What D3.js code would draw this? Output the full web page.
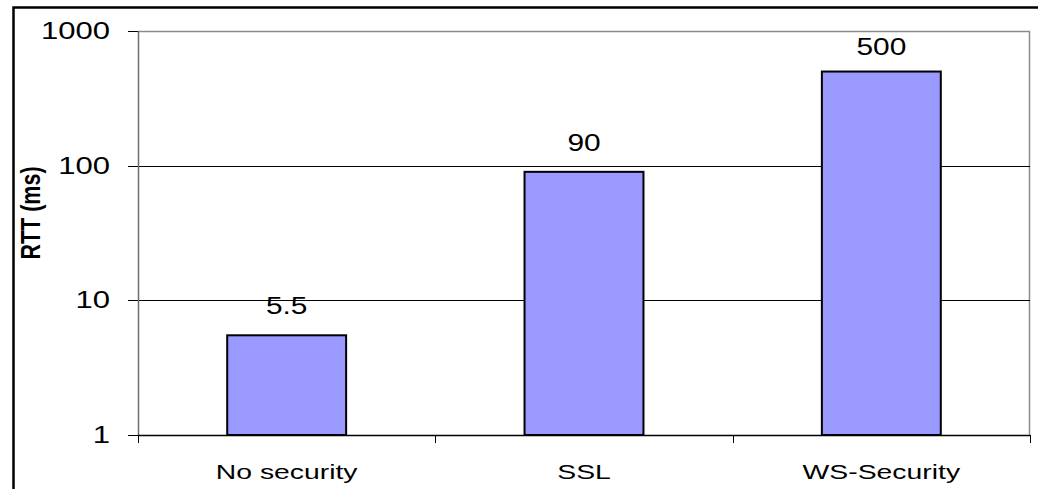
<!DOCTYPE html>
<html>
<head>
<meta charset="utf-8">
<script src="https://cdn.jsdelivr.net/npm/d3@7"></script>
<style>
  html, body { margin: 0; padding: 0; background: #fff; }
  svg { display: block; }
  text { font-family: "Liberation Sans", Arial, sans-serif; fill: #000; }
</style>
</head>
<body>
<svg id="chart" width="1038" height="489"></svg>
<script>
// Round-trip time per security mode (log scale)
const categories = ["No security", "SSL", "WS-Security"];
const rttValues = [5.5, 90, 500];
const valueLabels = ["5.5", "90", "500"];
const yTicks = [1, 10, 100, 1000];
const yTickLabels = ["1", "10", "100", "1000"];
const yTitle = "RTT (ms)";

const svg = d3.select("#chart");
const W = 1038, H = 489;
const plot = { left: 138, right: 1030, top: 31, bottom: 435 };

// Horizontally widened text, anchored at (x, y)
function wideText(g, x, y, str, size, sx, anchor, weight) {
  return g.append("text")
    .attr("transform", `translate(${x},${y}) scale(${sx},1)`)
    .attr("text-anchor", anchor)
    .style("font-size", size + "px")
    .style("font-weight", weight || "normal")
    .text(str);
}

// Outer frame (left and top edges)
svg.append("path")
  .attr("d", `M13.5,${H} L13.5,7.5 L${W},7.5`)
  .attr("fill", "none").attr("stroke", "#000").attr("stroke-width", 2.5);

const x = d3.scaleBand().domain(categories).range([plot.left, plot.right]).padding(0);
const y = d3.scaleLog().domain([1, 1000]).range([plot.bottom, plot.top]);

// Plot area border (top & right)
svg.append("path")
  .attr("d", `M${plot.left},${plot.top + 0.5} L${plot.right - 0.5},${plot.top + 0.5} L${plot.right - 0.5},${plot.bottom}`)
  .attr("fill", "none").attr("stroke", "#8c8c8c").attr("stroke-width", 1.5);

// Horizontal gridlines
svg.append("g").selectAll("line")
  .data(yTicks.filter(t => t > 1 && t < 1000))
  .join("line")
  .attr("x1", plot.left).attr("x2", plot.right)
  .attr("y1", d => Math.round(y(d)) + 0.5).attr("y2", d => Math.round(y(d)) + 0.5)
  .attr("stroke", "#000").attr("stroke-width", 1);

// Bars
const barW = x.bandwidth() * 0.4;
svg.append("g").selectAll("rect")
  .data(rttValues)
  .join("rect")
  .attr("x", (d, i) => x(categories[i]) + (x.bandwidth() - barW) / 2)
  .attr("y", d => y(d))
  .attr("width", barW)
  .attr("height", d => plot.bottom - y(d))
  .attr("fill", "#9999ff")
  .attr("stroke", "#000")
  .attr("stroke-width", 2);

// Y axis
const yAxisG = svg.append("g");
yAxisG.append("line")
  .attr("x1", plot.left + 0.5).attr("x2", plot.left + 0.5)
  .attr("y1", plot.top).attr("y2", plot.bottom)
  .attr("stroke", "#6e6e6e").attr("stroke-width", 1.5);
yAxisG.selectAll("line.tick")
  .data(yTicks)
  .join("line").attr("class", "tick")
  .attr("x1", plot.left - 10).attr("x2", plot.left)
  .attr("y1", d => Math.round(y(d)) + 0.5).attr("y2", d => Math.round(y(d)) + 0.5)
  .attr("stroke", "#000").attr("stroke-width", 1);
yTicks.forEach((t, i) => {
  wideText(yAxisG, 110, y(t) + 8, yTickLabels[i], 23, 1.35, "end");
});

// X axis
const xAxisG = svg.append("g");
xAxisG.append("line")
  .attr("x1", plot.left).attr("x2", plot.right)
  .attr("y1", plot.bottom + 0.5).attr("y2", plot.bottom + 0.5)
  .attr("stroke", "#000").attr("stroke-width", 1.5);
const bounds = categories.map(c => x(c)).concat([plot.right]);
xAxisG.selectAll("line.tick")
  .data(bounds)
  .join("line").attr("class", "tick")
  .attr("x1", d => Math.round(d) + 0.5).attr("x2", d => Math.round(d) + 0.5)
  .attr("y1", plot.bottom).attr("y2", plot.bottom + 8)
  .attr("stroke", "#000").attr("stroke-width", 1);
categories.forEach(c => {
  wideText(xAxisG, x(c) + x.bandwidth() / 2, 479, c, 21, 1.35, "middle");
});

// Value labels above bars, kept inside the plot area
const labelsG = svg.append("g");
rttValues.forEach((v, i) => {
  const baseY = Math.max(y(v) - 21, plot.top + 23.5);
  wideText(labelsG, x(categories[i]) + x.bandwidth() / 2, baseY, valueLabels[i], 23, 1.3, "middle");
});

// Y axis title
svg.append("text")
  .attr("transform", "translate(40,213) scale(1.3,1) rotate(-90)")
  .attr("text-anchor", "middle")
  .style("font-size", "21.5px")
  .style("font-weight", "bold")
  .text(yTitle);
</script>
</body>
</html>
